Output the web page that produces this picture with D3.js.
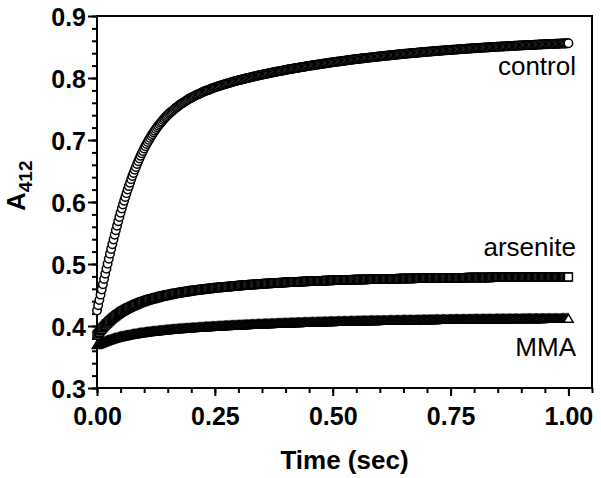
<!DOCTYPE html>
<html>
<head>
<meta charset="utf-8">
<script src="https://cdn.jsdelivr.net/npm/d3@7"></script>
<style>
  html, body { margin: 0; padding: 0; background: #fff; }
  svg { display: block; }
  text { font-family: "Liberation Sans", Arial, sans-serif; fill: #000; }
</style>
</head>
<body>
<svg id="chart" width="601" height="478"></svg>
<script>
// ---- data ----
const seriesNames = ["control", "arsenite", "MMA"];

const timeSec = [
  0,0.0025,0.005,0.0075,0.01,0.0125,0.015,0.0175,0.02,0.0225,0.025,0.0275,0.03,0.0325,0.035,0.0375,0.04,0.0425,0.045,0.0475,
  0.05,0.0525,0.055,0.0575,0.06,0.0625,0.065,0.0675,0.07,0.0725,0.075,0.0775,0.08,0.0825,0.085,0.0875,0.09,0.0925,0.095,0.0975,
  0.1,0.1025,0.105,0.1075,0.11,0.1125,0.115,0.1175,0.12,0.1225,0.125,0.1275,0.13,0.1325,0.135,0.1375,0.14,0.1425,0.145,0.1475,
  0.15,0.1525,0.155,0.1575,0.16,0.1625,0.165,0.1675,0.17,0.1725,0.175,0.1775,0.18,0.1825,0.185,0.1875,0.19,0.1925,0.195,0.1975,
  0.2,0.2025,0.205,0.2075,0.21,0.2125,0.215,0.2175,0.22,0.2225,0.225,0.2275,0.23,0.2325,0.235,0.2375,0.24,0.2425,0.245,0.2475,
  0.25,0.2525,0.255,0.2575,0.26,0.2625,0.265,0.2675,0.27,0.2725,0.275,0.2775,0.28,0.2825,0.285,0.2875,0.29,0.2925,0.295,0.2975,
  0.3,0.3025,0.305,0.3075,0.31,0.3125,0.315,0.3175,0.32,0.3225,0.325,0.3275,0.33,0.3325,0.335,0.3375,0.34,0.3425,0.345,0.3475,
  0.35,0.3525,0.355,0.3575,0.36,0.3625,0.365,0.3675,0.37,0.3725,0.375,0.3775,0.38,0.3825,0.385,0.3875,0.39,0.3925,0.395,0.3975,
  0.4,0.4025,0.405,0.4075,0.41,0.4125,0.415,0.4175,0.42,0.4225,0.425,0.4275,0.43,0.4325,0.435,0.4375,0.44,0.4425,0.445,0.4475,
  0.45,0.4525,0.455,0.4575,0.46,0.4625,0.465,0.4675,0.47,0.4725,0.475,0.4775,0.48,0.4825,0.485,0.4875,0.49,0.4925,0.495,0.4975,
  0.5,0.5025,0.505,0.5075,0.51,0.5125,0.515,0.5175,0.52,0.5225,0.525,0.5275,0.53,0.5325,0.535,0.5375,0.54,0.5425,0.545,0.5475,
  0.55,0.5525,0.555,0.5575,0.56,0.5625,0.565,0.5675,0.57,0.5725,0.575,0.5775,0.58,0.5825,0.585,0.5875,0.59,0.5925,0.595,0.5975,
  0.6,0.6025,0.605,0.6075,0.61,0.6125,0.615,0.6175,0.62,0.6225,0.625,0.6275,0.63,0.6325,0.635,0.6375,0.64,0.6425,0.645,0.6475,
  0.65,0.6525,0.655,0.6575,0.66,0.6625,0.665,0.6675,0.67,0.6725,0.675,0.6775,0.68,0.6825,0.685,0.6875,0.69,0.6925,0.695,0.6975,
  0.7,0.7025,0.705,0.7075,0.71,0.7125,0.715,0.7175,0.72,0.7225,0.725,0.7275,0.73,0.7325,0.735,0.7375,0.74,0.7425,0.745,0.7475,
  0.75,0.7525,0.755,0.7575,0.76,0.7625,0.765,0.7675,0.77,0.7725,0.775,0.7775,0.78,0.7825,0.785,0.7875,0.79,0.7925,0.795,0.7975,
  0.8,0.8025,0.805,0.8075,0.81,0.8125,0.815,0.8175,0.82,0.8225,0.825,0.8275,0.83,0.8325,0.835,0.8375,0.84,0.8425,0.845,0.8475,
  0.85,0.8525,0.855,0.8575,0.86,0.8625,0.865,0.8675,0.87,0.8725,0.875,0.8775,0.88,0.8825,0.885,0.8875,0.89,0.8925,0.895,0.8975,
  0.9,0.9025,0.905,0.9075,0.91,0.9125,0.915,0.9175,0.92,0.9225,0.925,0.9275,0.93,0.9325,0.935,0.9375,0.94,0.9425,0.945,0.9475,
  0.95,0.9525,0.955,0.9575,0.96,0.9625,0.965,0.9675,0.97,0.9725,0.975,0.9775,0.98,0.9825,0.985,0.9875,0.99,0.9925,0.995,0.9975,
  1
];

const controlA412 = [
  0.425,0.4336,0.4420,0.4506,0.4589,0.4674,0.4757,0.4841,0.4922,0.5004,0.5084,0.5164,0.5242,0.5320,0.5396,0.5472,0.5545,0.5618,0.5689,0.5759,
  0.5828,0.5894,0.5958,0.6021,0.6082,0.6142,0.6200,0.6256,0.6312,0.6366,0.6419,0.6469,0.6519,0.6566,0.6613,0.6658,0.6702,0.6744,0.6785,0.6824,
  0.6863,0.6899,0.6935,0.6969,0.7002,0.7034,0.7065,0.7094,0.7123,0.7151,0.7178,0.7204,0.7229,0.7253,0.7277,0.7300,0.7322,0.7344,0.7365,0.7385,
  0.7404,0.7422,0.7440,0.7457,0.7473,0.7489,0.7505,0.7520,0.7534,0.7549,0.7563,0.7576,0.7589,0.7602,0.7614,0.7626,0.7638,0.7650,0.7661,0.7672,
  0.7683,0.7693,0.7703,0.7712,0.7721,0.7730,0.7739,0.7748,0.7756,0.7765,0.7773,0.7781,0.7789,0.7797,0.7804,0.7812,0.7819,0.7827,0.7834,0.7841,
  0.7848,0.7855,0.7861,0.7867,0.7873,0.7879,0.7885,0.7891,0.7897,0.7903,0.7908,0.7914,0.7920,0.7925,0.7930,0.7936,0.7942,0.7947,0.7952,0.7958,
  0.7963,0.7968,0.7972,0.7977,0.7981,0.7986,0.7991,0.7996,0.8000,0.8005,0.8009,0.8014,0.8018,0.8023,0.8027,0.8032,0.8036,0.8040,0.8044,0.8049,
  0.8054,0.8058,0.8062,0.8066,0.8069,0.8073,0.8077,0.8081,0.8085,0.8089,0.8092,0.8096,0.8100,0.8104,0.8107,0.8111,0.8115,0.8119,0.8122,0.8126,
  0.8130,0.8134,0.8137,0.8140,0.8143,0.8147,0.8150,0.8153,0.8156,0.8160,0.8163,0.8166,0.8169,0.8173,0.8176,0.8179,0.8182,0.8186,0.8189,0.8193,
  0.8196,0.8199,0.8202,0.8205,0.8207,0.8210,0.8213,0.8216,0.8219,0.8222,0.8225,0.8228,0.8230,0.8233,0.8236,0.8239,0.8242,0.8245,0.8248,0.8251,
  0.8253,0.8256,0.8258,0.8261,0.8263,0.8266,0.8268,0.8271,0.8273,0.8276,0.8279,0.8282,0.8284,0.8287,0.8289,0.8292,0.8294,0.8297,0.8299,0.8302,
  0.8304,0.8306,0.8308,0.8311,0.8313,0.8315,0.8317,0.8320,0.8322,0.8324,0.8326,0.8329,0.8331,0.8333,0.8335,0.8337,0.8339,0.8342,0.8344,0.8346,
  0.8348,0.8350,0.8352,0.8354,0.8356,0.8358,0.8360,0.8362,0.8364,0.8366,0.8368,0.8370,0.8372,0.8374,0.8376,0.8378,0.8380,0.8382,0.8384,0.8386,
  0.8388,0.8390,0.8391,0.8393,0.8395,0.8397,0.8398,0.8400,0.8402,0.8404,0.8405,0.8407,0.8408,0.8410,0.8412,0.8414,0.8415,0.8417,0.8419,0.8421,
  0.8422,0.8424,0.8425,0.8427,0.8428,0.8430,0.8432,0.8434,0.8435,0.8437,0.8438,0.8440,0.8441,0.8443,0.8444,0.8446,0.8447,0.8449,0.8450,0.8452,
  0.8453,0.8455,0.8456,0.8457,0.8458,0.8460,0.8461,0.8463,0.8464,0.8466,0.8467,0.8468,0.8469,0.8471,0.8472,0.8474,0.8475,0.8476,0.8477,0.8479,
  0.8480,0.8481,0.8482,0.8484,0.8485,0.8486,0.8487,0.8489,0.8490,0.8491,0.8492,0.8493,0.8494,0.8496,0.8497,0.8498,0.8499,0.8501,0.8502,0.8503,
  0.8504,0.8505,0.8506,0.8507,0.8508,0.8509,0.8510,0.8511,0.8512,0.8513,0.8514,0.8516,0.8517,0.8518,0.8519,0.8520,0.8521,0.8522,0.8523,0.8524,
  0.8525,0.8526,0.8527,0.8528,0.8529,0.8530,0.8530,0.8531,0.8532,0.8533,0.8534,0.8535,0.8536,0.8537,0.8538,0.8539,0.8540,0.8541,0.8542,0.8543,
  0.8543,0.8544,0.8545,0.8546,0.8547,0.8548,0.8548,0.8549,0.8550,0.8551,0.8552,0.8553,0.8553,0.8554,0.8555,0.8556,0.8557,0.8558,0.8558,0.8559,
  0.8560
];

const arseniteA412 = [
  0.385,0.3876,0.3901,0.3925,0.3948,0.3970,0.3991,0.4011,0.4031,0.4050,0.4069,0.4086,0.4103,0.4120,0.4136,0.4151,0.4166,0.4180,0.4194,0.4207,
  0.4220,0.4232,0.4243,0.4254,0.4265,0.4275,0.4285,0.4295,0.4304,0.4314,0.4323,0.4332,0.4340,0.4348,0.4356,0.4364,0.4371,0.4379,0.4386,0.4393,
  0.4400,0.4406,0.4412,0.4418,0.4424,0.4430,0.4435,0.4440,0.4445,0.4450,0.4455,0.4460,0.4465,0.4470,0.4475,0.4480,0.4484,0.4489,0.4493,0.4498,
  0.4502,0.4506,0.4509,0.4513,0.4516,0.4520,0.4523,0.4527,0.4530,0.4533,0.4536,0.4540,0.4543,0.4546,0.4549,0.4552,0.4555,0.4558,0.4561,0.4565,
  0.4568,0.4571,0.4573,0.4576,0.4578,0.4581,0.4583,0.4585,0.4587,0.4590,0.4592,0.4595,0.4597,0.4599,0.4601,0.4604,0.4606,0.4608,0.4610,0.4613,
  0.4615,0.4617,0.4619,0.4621,0.4622,0.4624,0.4626,0.4628,0.4630,0.4632,0.4633,0.4635,0.4637,0.4639,0.4641,0.4643,0.4644,0.4646,0.4648,0.4650,
  0.4651,0.4653,0.4654,0.4656,0.4657,0.4659,0.4660,0.4662,0.4663,0.4665,0.4666,0.4668,0.4669,0.4670,0.4671,0.4673,0.4674,0.4676,0.4677,0.4679,
  0.4680,0.4682,0.4683,0.4684,0.4685,0.4686,0.4687,0.4689,0.4690,0.4691,0.4692,0.4693,0.4694,0.4695,0.4696,0.4698,0.4699,0.4700,0.4701,0.4702,
  0.4703,0.4704,0.4705,0.4706,0.4707,0.4708,0.4709,0.4710,0.4710,0.4711,0.4712,0.4713,0.4714,0.4715,0.4716,0.4717,0.4718,0.4719,0.4720,0.4721,
  0.4721,0.4722,0.4723,0.4724,0.4724,0.4725,0.4726,0.4727,0.4727,0.4728,0.4729,0.4730,0.4730,0.4731,0.4732,0.4733,0.4733,0.4734,0.4735,0.4736,
  0.4736,0.4737,0.4738,0.4739,0.4739,0.4740,0.4740,0.4741,0.4741,0.4742,0.4742,0.4743,0.4744,0.4745,0.4745,0.4746,0.4746,0.4747,0.4747,0.4748,
  0.4748,0.4749,0.4749,0.4750,0.4750,0.4751,0.4751,0.4752,0.4752,0.4753,0.4753,0.4754,0.4754,0.4755,0.4755,0.4756,0.4756,0.4757,0.4757,0.4758,
  0.4758,0.4759,0.4759,0.4760,0.4760,0.4760,0.4760,0.4761,0.4761,0.4762,0.4762,0.4763,0.4763,0.4764,0.4764,0.4764,0.4764,0.4765,0.4765,0.4766,
  0.4766,0.4767,0.4767,0.4767,0.4767,0.4768,0.4768,0.4768,0.4768,0.4769,0.4769,0.4770,0.4770,0.4770,0.4770,0.4771,0.4771,0.4771,0.4771,0.4772,
  0.4772,0.4773,0.4773,0.4773,0.4773,0.4774,0.4774,0.4774,0.4774,0.4775,0.4775,0.4775,0.4775,0.4776,0.4776,0.4776,0.4776,0.4777,0.4777,0.4778,
  0.4778,0.4778,0.4778,0.4778,0.4778,0.4779,0.4779,0.4779,0.4779,0.4780,0.4780,0.4780,0.4780,0.4780,0.4780,0.4781,0.4781,0.4781,0.4781,0.4782,
  0.4782,0.4782,0.4782,0.4783,0.4783,0.4783,0.4783,0.4783,0.4783,0.4784,0.4784,0.4784,0.4784,0.4784,0.4784,0.4785,0.4785,0.4785,0.4785,0.4785,
  0.4785,0.4786,0.4786,0.4786,0.4786,0.4786,0.4786,0.4786,0.4786,0.4787,0.4787,0.4787,0.4787,0.4787,0.4787,0.4788,0.4788,0.4788,0.4788,0.4788,
  0.4788,0.4788,0.4788,0.4789,0.4789,0.4789,0.4789,0.4789,0.4789,0.4789,0.4789,0.4790,0.4790,0.4790,0.4790,0.4790,0.4790,0.4790,0.4790,0.4790,
  0.4790,0.4791,0.4791,0.4791,0.4791,0.4791,0.4791,0.4791,0.4791,0.4791,0.4791,0.4791,0.4791,0.4792,0.4792,0.4792,0.4792,0.4792,0.4792,0.4792,
  0.4792
];

const mmaA412 = [
  0.368,0.3689,0.3698,0.3706,0.3714,0.3722,0.3729,0.3736,0.3743,0.3750,0.3756,0.3762,0.3768,0.3774,0.3780,0.3786,0.3791,0.3796,0.3801,0.3806,
  0.3810,0.3815,0.3819,0.3823,0.3827,0.3831,0.3834,0.3838,0.3842,0.3846,0.3849,0.3852,0.3855,0.3858,0.3861,0.3865,0.3868,0.3871,0.3873,0.3876,
  0.3879,0.3882,0.3884,0.3887,0.3889,0.3891,0.3893,0.3895,0.3897,0.3900,0.3902,0.3904,0.3906,0.3908,0.3910,0.3912,0.3914,0.3916,0.3918,0.3920,
  0.3922,0.3924,0.3925,0.3927,0.3928,0.3930,0.3931,0.3933,0.3935,0.3937,0.3938,0.3940,0.3941,0.3943,0.3944,0.3946,0.3947,0.3949,0.3950,0.3952,
  0.3953,0.3954,0.3955,0.3957,0.3958,0.3959,0.3960,0.3962,0.3963,0.3964,0.3965,0.3967,0.3968,0.3969,0.3970,0.3972,0.3973,0.3974,0.3975,0.3976,
  0.3977,0.3979,0.3980,0.3981,0.3981,0.3983,0.3984,0.3985,0.3986,0.3987,0.3988,0.3989,0.3990,0.3991,0.3992,0.3993,0.3994,0.3995,0.3996,0.3997,
  0.3998,0.3999,0.3999,0.4000,0.4001,0.4002,0.4003,0.4004,0.4005,0.4006,0.4006,0.4007,0.4008,0.4009,0.4010,0.4011,0.4012,0.4013,0.4013,0.4014,
  0.4015,0.4016,0.4016,0.4017,0.4018,0.4019,0.4019,0.4020,0.4021,0.4022,0.4022,0.4023,0.4024,0.4025,0.4025,0.4026,0.4027,0.4028,0.4028,0.4029,
  0.4030,0.4031,0.4031,0.4032,0.4032,0.4033,0.4034,0.4035,0.4035,0.4036,0.4036,0.4037,0.4037,0.4038,0.4039,0.4040,0.4040,0.4041,0.4041,0.4042,
  0.4042,0.4043,0.4043,0.4044,0.4044,0.4045,0.4045,0.4046,0.4046,0.4047,0.4048,0.4049,0.4049,0.4050,0.4050,0.4051,0.4051,0.4052,0.4052,0.4053,
  0.4053,0.4054,0.4054,0.4055,0.4055,0.4056,0.4056,0.4057,0.4057,0.4058,0.4058,0.4059,0.4059,0.4059,0.4059,0.4060,0.4060,0.4061,0.4061,0.4062,
  0.4062,0.4063,0.4063,0.4064,0.4064,0.4065,0.4065,0.4065,0.4065,0.4066,0.4066,0.4067,0.4067,0.4068,0.4068,0.4068,0.4068,0.4069,0.4069,0.4070,
  0.4070,0.4071,0.4071,0.4071,0.4071,0.4072,0.4072,0.4073,0.4073,0.4073,0.4073,0.4074,0.4074,0.4075,0.4075,0.4075,0.4075,0.4076,0.4076,0.4077,
  0.4077,0.4078,0.4078,0.4078,0.4078,0.4079,0.4079,0.4079,0.4079,0.4080,0.4080,0.4080,0.4080,0.4081,0.4081,0.4082,0.4082,0.4082,0.4082,0.4083,
  0.4083,0.4084,0.4084,0.4084,0.4084,0.4085,0.4085,0.4085,0.4085,0.4086,0.4086,0.4086,0.4086,0.4087,0.4087,0.4087,0.4087,0.4088,0.4088,0.4088,
  0.4088,0.4089,0.4089,0.4089,0.4089,0.4090,0.4090,0.4090,0.4090,0.4090,0.4090,0.4091,0.4091,0.4091,0.4091,0.4092,0.4092,0.4092,0.4092,0.4093,
  0.4093,0.4093,0.4093,0.4093,0.4093,0.4094,0.4094,0.4094,0.4094,0.4095,0.4095,0.4095,0.4095,0.4095,0.4095,0.4096,0.4096,0.4096,0.4096,0.4097,
  0.4097,0.4097,0.4097,0.4097,0.4097,0.4098,0.4098,0.4098,0.4098,0.4098,0.4098,0.4099,0.4099,0.4099,0.4099,0.4099,0.4099,0.4100,0.4100,0.4100,
  0.4100,0.4100,0.4100,0.4101,0.4101,0.4101,0.4101,0.4101,0.4101,0.4101,0.4101,0.4102,0.4102,0.4102,0.4102,0.4102,0.4102,0.4102,0.4102,0.4103,
  0.4103,0.4103,0.4103,0.4103,0.4103,0.4103,0.4103,0.4104,0.4104,0.4104,0.4104,0.4104,0.4104,0.4104,0.4104,0.4105,0.4105,0.4105,0.4105,0.4105,
  0.4105
];

const xTickValues = [0, 0.25, 0.5, 0.75, 1.0];
const xTickLabels = ["0.00", "0.25", "0.50", "0.75", "1.00"];
const yTickValues = [0.3, 0.4, 0.5, 0.6, 0.7, 0.8, 0.9];
const yTickLabels = ["0.3", "0.4", "0.5", "0.6", "0.7", "0.8", "0.9"];

// ---- chart ----
const svg = d3.select("#chart");
svg.append("rect").attr("width", 601).attr("height", 478).attr("fill", "#fff");

const x = d3.scaleLinear().domain([0, 1.05]).range([97, 592]);
const y = d3.scaleLinear().domain([0.3, 0.9]).range([388, 16]);

const xMinor = d3.range(0, 21.5).map(i => i * 0.05);
const yMinor = d3.range(0, 30.5).map(i => 0.3 + i * 0.02);

function styleAxis(g) {
  g.select(".domain").remove();
  g.selectAll(".tick line").attr("stroke", "#000").attr("stroke-width", 2);
}

// x axis
svg.append("g").attr("transform", "translate(0,388)")
  .call(d3.axisBottom(x).tickValues(xMinor).tickSize(5).tickFormat(""))
  .call(styleAxis);
const gx = svg.append("g").attr("transform", "translate(0,388)")
  .call(d3.axisBottom(x).tickValues(xTickValues).tickSize(8)
        .tickFormat((d, i) => xTickLabels[i]))
  .call(styleAxis);
gx.selectAll(".tick text")
  .attr("y", 37).attr("dy", 0)
  .style("font-size", "25px").style("font-weight", "bold")
  .style("font-family", "'Liberation Sans', Arial, sans-serif")
  .attr("fill", "#000");

// y axis
svg.append("g").attr("transform", "translate(97,0)")
  .call(d3.axisLeft(y).tickValues(yMinor).tickSize(5).tickFormat(""))
  .call(styleAxis);
const gy = svg.append("g").attr("transform", "translate(97,0)")
  .call(d3.axisLeft(y).tickValues(yTickValues).tickSize(9).tickPadding(2)
        .tickFormat((d, i) => yTickLabels[i]))
  .call(styleAxis);
gy.selectAll(".tick text")
  .attr("dy", "0.36em")
  .style("font-size", "25px").style("font-weight", "bold")
  .style("font-family", "'Liberation Sans', Arial, sans-serif")
  .attr("fill", "#000");

// frame
svg.append("rect")
  .attr("x", x(0)).attr("y", y(0.9))
  .attr("width", x(1.05) - x(0)).attr("height", y(0.3) - y(0.9))
  .attr("fill", "none").attr("stroke", "#000").attr("stroke-width", 2);

// series
const series = [
  { name: "MMA", values: mmaA412, symbol: d3.symbolTriangle, size: 38 },
  { name: "arsenite", values: arseniteA412, symbol: d3.symbolSquare, size: 64 },
  { name: "control", values: controlA412, symbol: d3.symbolCircle, size: 56 }
];

series.forEach(s => {
  const sym = d3.symbol().type(s.symbol).size(s.size);
  const pts = timeSec.map((t, i) => ({ t, v: s.values[i] }))
                     .filter(d => d.v !== undefined);
  svg.append("g").attr("class", "series-" + s.name)
    .selectAll("path")
    .data(pts)
    .join("path")
    .attr("d", sym)
    .attr("transform", d => `translate(${x(d.t)},${y(d.v)})`)
    .attr("fill", "#fff")
    .attr("stroke", "#000")
    .attr("stroke-width", 1.5);
});

// series labels
const labelStyle = sel => sel
  .attr("text-anchor", "end")
  .style("font-size", "26px")
  .style("font-family", "'Liberation Sans', Arial, sans-serif");
svg.append("text").attr("x", 576).attr("y", 75).text(seriesNames[0]).call(labelStyle);
svg.append("text").attr("x", 576).attr("y", 256).text(seriesNames[1]).call(labelStyle);
svg.append("text").attr("x", 576).attr("y", 356).text(seriesNames[2]).call(labelStyle);

// axis titles
svg.append("text")
  .attr("x", (x(0) + x(1.05)) / 2).attr("y", 469)
  .attr("text-anchor", "middle")
  .style("font-size", "26px").style("font-weight", "bold")
  .text("Time (sec)");

const yTitle = svg.append("text")
  .attr("transform", "translate(25,211) rotate(-90)")
  .attr("text-anchor", "start")
  .style("font-size", "26px").style("font-weight", "bold");
yTitle.append("tspan").text("A");
yTitle.append("tspan").attr("dy", 7).style("font-size", "19px").text("412");
</script>
</body>
</html>
